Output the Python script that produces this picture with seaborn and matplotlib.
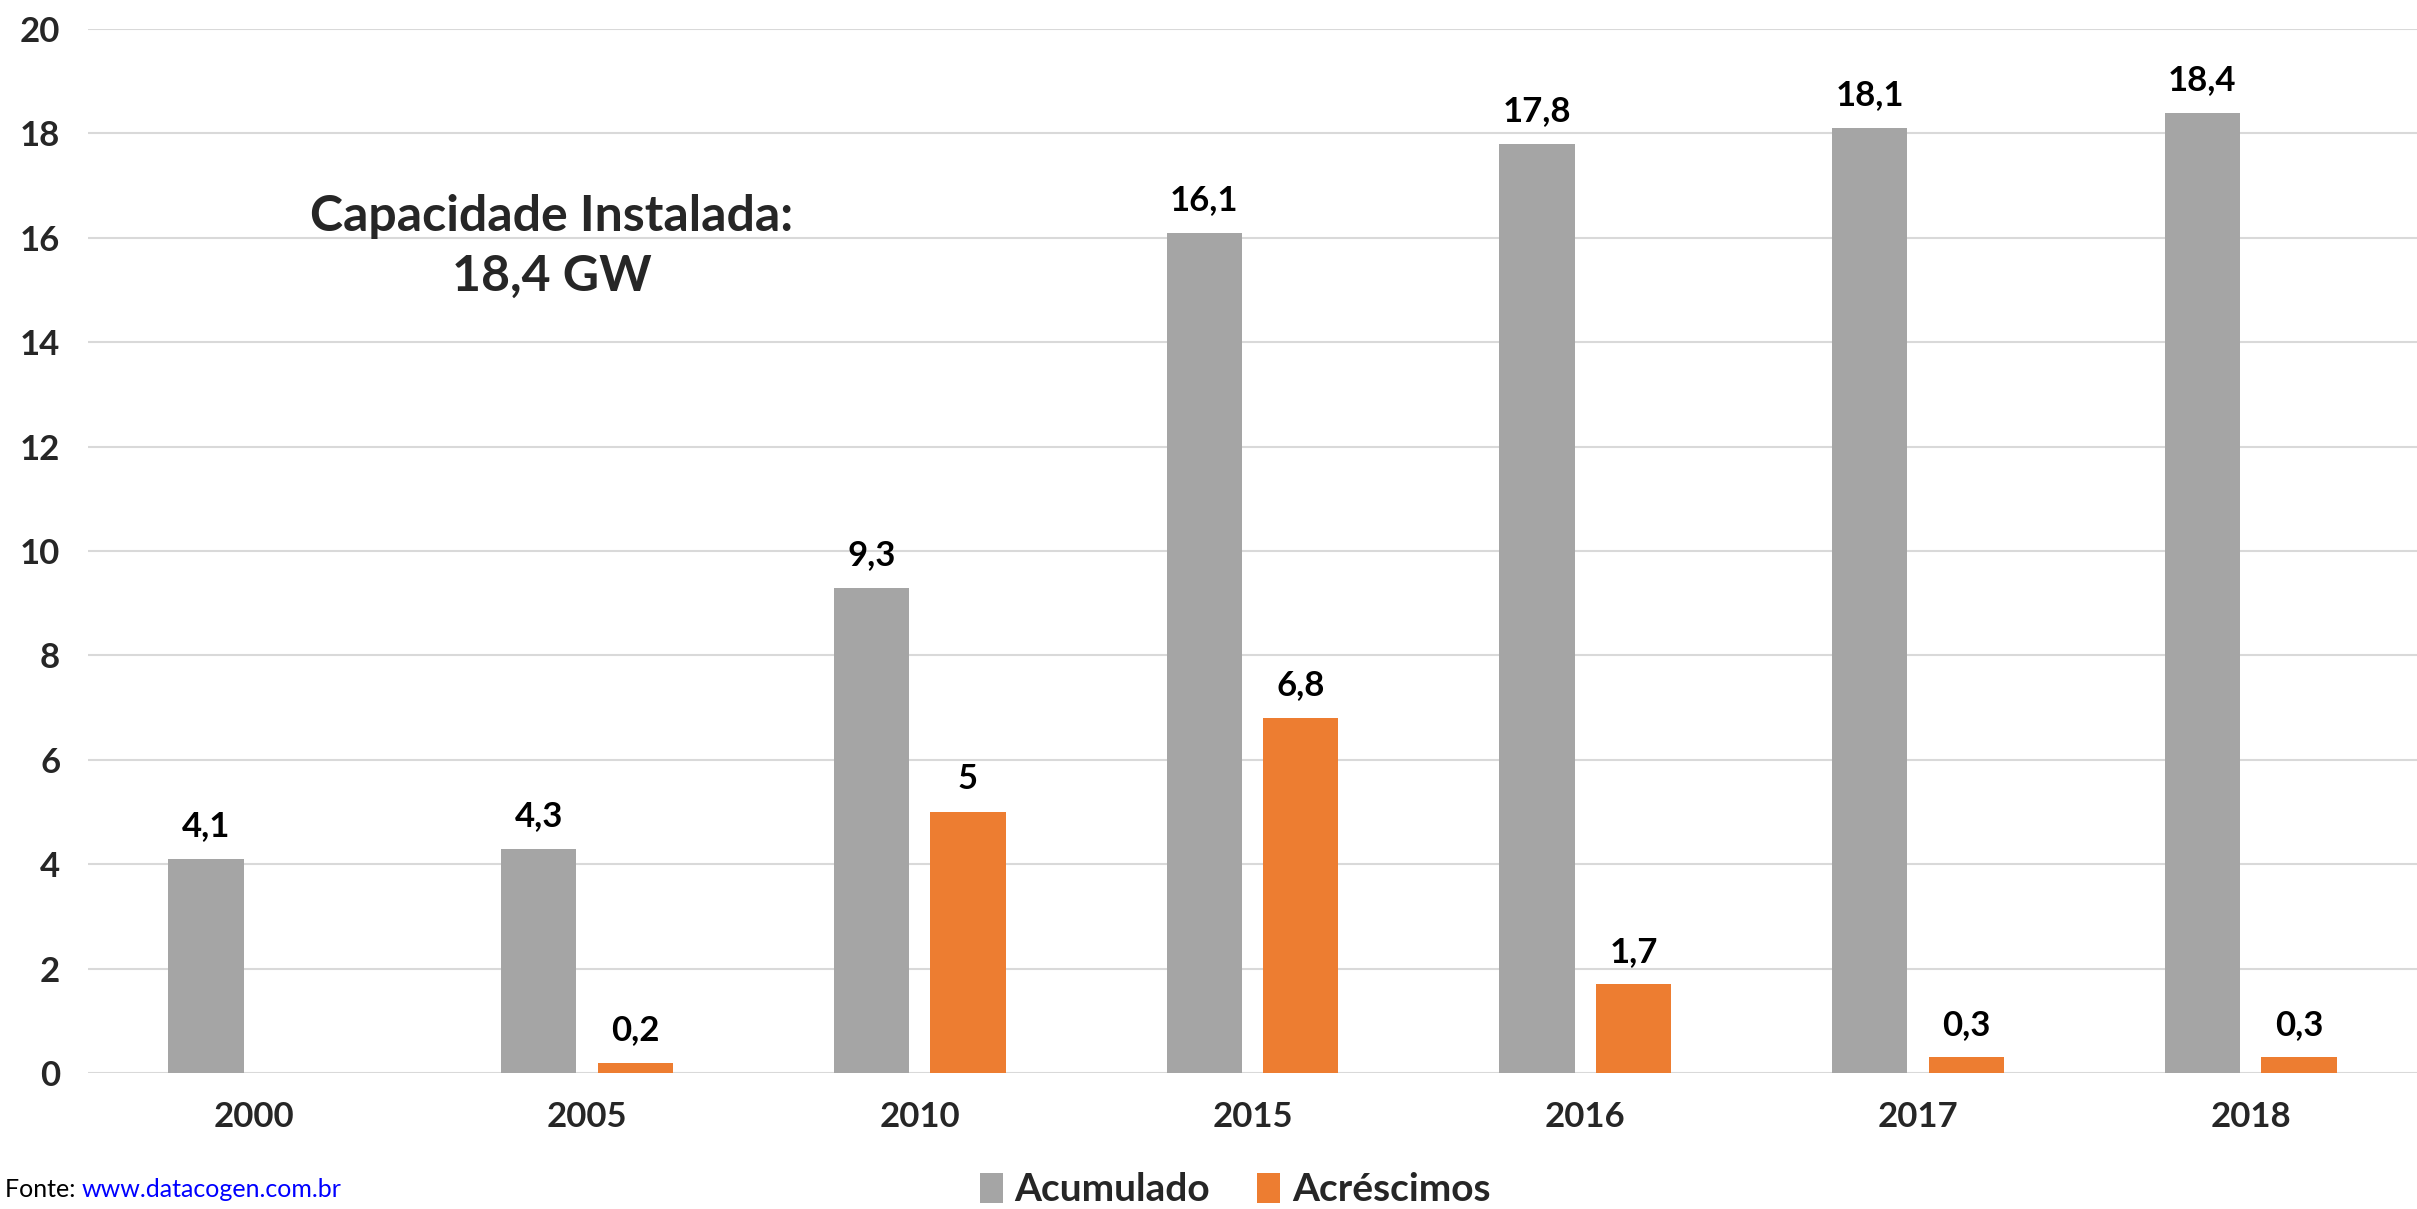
import numpy as np
import pandas as pd
import matplotlib.pyplot as plt
import seaborn as sns

# ---- data (GW) ----
years = ["2000", "2005", "2010", "2015", "2016", "2017", "2018"]
acumulado = [4.1, 4.3, 9.3, 16.1, 17.8, 18.1, 18.4]
acrescimos = [np.nan, 0.2, 5.0, 6.8, 1.7, 0.3, 0.3]
series_names = ["Acumulado", "Acréscimos"]
y_ticks = [0, 2, 4, 6, 8, 10, 12, 14, 16, 18, 20]
note_text = "Capacidade Instalada:\n18,4 GW"
source_label = "Fonte: "
source_url = "www.datacogen.com.br"

GRAY = "#A5A5A5"
ORANGE = "#ED7D31"
GRID = "#D9D9D9"

sns.set_style("white")
plt.rcParams["font.family"] = ["Lato", "DejaVu Sans"]
plt.rcParams["font.weight"] = "bold"

df = pd.DataFrame({
    "ano": years * 2,
    "valor": acumulado + acrescimos,
    "serie": [series_names[0]] * len(years) + [series_names[1]] * len(years),
})

fig = plt.figure(figsize=(24.17, 12.09), dpi=100)
ax = fig.add_axes([0.0364, 0.1125, 0.9636, 0.8635])

sns.barplot(data=df, x="ano", y="valor", hue="serie", order=years,
            hue_order=series_names, palette=[GRAY, ORANGE],
            width=0.58, gap=0.22, errorbar=None, saturation=1,
            linewidth=0, ax=ax)

# value labels, decimal comma like the original
for cont in ax.containers:
    labels = []
    for v in cont.datavalues:
        labels.append("" if np.isnan(v) or v == 0 else f"{v:g}".replace(".", ","))
    ax.bar_label(cont, labels=labels, padding=12, fontsize=25,
                 fontweight="bold", color="black")

ax.set_xlim(-0.5, len(years) - 0.5)
ax.set_ylim(0, 20)
ax.set_yticks(y_ticks)
ax.yaxis.grid(True, color=GRID, linewidth=1.5)
ax.set_axisbelow(True)
for s in ax.spines.values():
    s.set_visible(False)
ax.tick_params(axis="both", length=0, labelsize=25)
ax.tick_params(axis="y", pad=20)
ax.tick_params(axis="x", pad=20)
for lab in ax.get_xticklabels() + ax.get_yticklabels():
    lab.set_fontweight("bold")
ax.set_xlabel("")
ax.set_ylabel("")

ax.text(0.199, 0.792, note_text, transform=ax.transAxes, ha="center",
        va="center", fontsize=36, fontweight="bold", linespacing=1.4)

# legend at the bottom centre
handles, labels = ax.get_legend_handles_labels()
ax.legend(handles, labels, loc="center", bbox_to_anchor=(0.511, 0.016),
          bbox_transform=fig.transFigure, ncol=2, frameon=False,
          prop={"size": 28, "weight": "bold"}, handlelength=0.6,
          handleheight=0.8, handletextpad=0.3, columnspacing=1.2)

# source line
src = fig.text(0.002, 0.016, source_label, ha="left", va="center",
               fontsize=18, fontweight="normal", color="black")
ax.annotate(source_url, xy=(1, 0), xycoords=src, va="bottom", ha="left",
            fontsize=18, fontweight="normal", color="#0000FF",
            annotation_clip=False)

fig.savefig("out.png", dpi=100)
